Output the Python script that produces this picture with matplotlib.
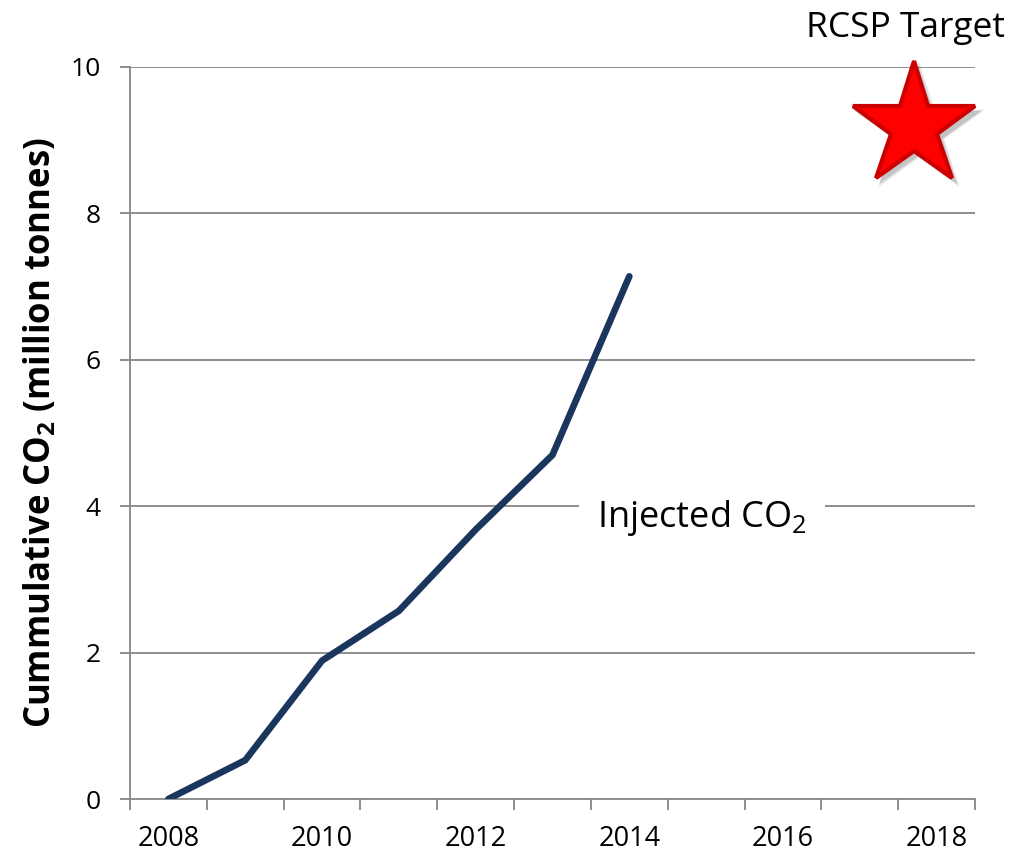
import matplotlib
matplotlib.use("Agg")
import matplotlib.pyplot as plt
from matplotlib.ticker import FixedLocator, MultipleLocator

# ---- data ----
years = [2008, 2009, 2010, 2011, 2012, 2013, 2014]
cum_co2 = [0.0, 0.53, 1.89, 2.57, 3.68, 4.70, 7.14]
target_year = 2017.7
target_value = 9.2
x_labels = [2008, 2010, 2012, 2014, 2016, 2018]
y_ticks = [0, 2, 4, 6, 8, 10]

plt.rcParams['font.family'] = ['Open Sans', 'DejaVu Sans']
plt.rcParams['mathtext.fontset'] = 'custom'
plt.rcParams['mathtext.rm'] = 'Open Sans'
plt.rcParams['mathtext.bf'] = 'Open Sans:bold'
plt.rcParams['mathtext.it'] = 'Open Sans:italic'

fig = plt.figure(figsize=(10.17, 8.55), dpi=100)
ax = fig.add_axes([130/1017, 1-799/855, (975-130)/1017, (799-67)/855])

gray = '#868686'
ax.set_xlim(2007.5, 2018.5)
ax.set_ylim(0, 10)

# grid
for v in y_ticks[1:]:
    ax.axhline(v, color=gray, lw=1.3, zorder=1)

ax.plot(years, cum_co2, color='#1b365d', lw=4.8, solid_capstyle='round',
        solid_joinstyle='miter', zorder=3)

# star with soft shadow
for dx, dy, ms, a in [(0.07, -0.08, 101, 0.05), (0.07, -0.08, 98, 0.08), (0.06, -0.07, 95, 0.12)]:
    ax.plot([target_year + dx], [target_value + dy], marker='*', ms=ms,
            color='black', alpha=a, mew=0, zorder=4, clip_on=False)
ax.plot([target_year], [target_value], marker='*', ms=93, markerfacecolor='#ff0000',
        markeredgecolor='#cc0000', mew=3, zorder=5, clip_on=False)

# spines
for s in ['top', 'right']:
    ax.spines[s].set_visible(False)
for s in ['left', 'bottom']:
    ax.spines[s].set_color(gray)
    ax.spines[s].set_linewidth(1.3)

ax.yaxis.set_major_locator(FixedLocator(y_ticks))
ax.tick_params(axis='y', direction='out', length=7, width=1.3, color=gray,
               labelsize=19, pad=14)

# x: category-style ticks between categories, labels at every other year
ax.xaxis.set_major_locator(MultipleLocator(1, offset=0.5))
ax.xaxis.set_major_formatter(plt.NullFormatter())
ax.set_xticks(x_labels, minor=True)
ax.set_xticklabels([str(v) for v in x_labels], minor=True)
ax.tick_params(axis='x', which='major', direction='out', length=8, width=1.3, color=gray)
ax.tick_params(axis='x', which='minor', length=0, labelsize=19.5, pad=19)

ax.set_ylabel(r'Cummulative CO$_\mathbf{2}$ (million tonnes)', fontsize=25,
              fontweight='bold', labelpad=8)

ax.text(2014.95, 3.72, r'Injected CO$_2$', fontsize=26, ha='center', va='baseline',
        zorder=6, bbox=dict(boxstyle='square,pad=0.5', fc='white', ec='none'))

fig.text(906/1017, 1-37/855, 'RCSP Target', fontsize=25.5, ha='center', va='baseline')

fig.savefig('out.png', dpi=100)
